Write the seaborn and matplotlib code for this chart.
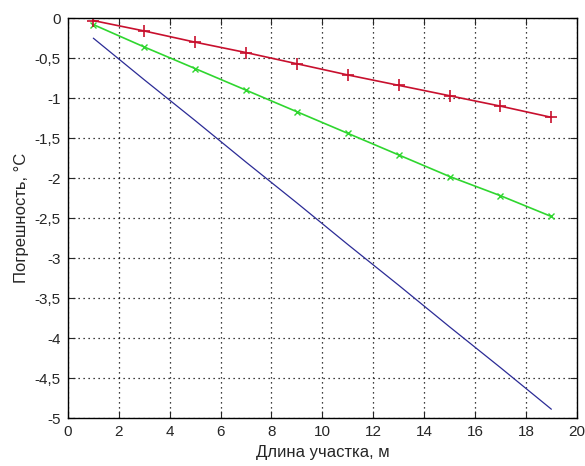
import numpy as np
import pandas as pd
import matplotlib
matplotlib.use('Agg')
import matplotlib.pyplot as plt
import seaborn as sns

# Data
x_vals = [1, 3, 5, 7, 9, 11, 13, 15, 17, 19]
red_vals = [-0.03, -0.16, -0.30, -0.43, -0.57, -0.71, -0.84, -0.97, -1.10, -1.24]
green_vals = [-0.08, -0.36, -0.63, -0.90, -1.17, -1.44, -1.71, -1.98, -2.22, -2.48]
blue_vals = [-0.25, -0.77, -1.28, -1.80, -2.31, -2.83, -3.34, -3.86, -4.37, -4.89]

xticks = list(range(0, 21, 2))
yticks = [0, -0.5, -1, -1.5, -2, -2.5, -3, -3.5, -4, -4.5, -5]
ytick_labels = ['0', '-0,5', '-1', '-1,5', '-2', '-2,5', '-3', '-3,5', '-4', '-4,5', '-5']

sns.set_style('ticks')
plt.rcParams['font.family'] = ['Liberation Sans', 'DejaVu Sans']

fig = plt.figure(figsize=(5.85, 4.66), dpi=100)
ax = fig.add_axes([0.116, 0.103, 0.870, 0.858])

df = pd.DataFrame({'x': x_vals, 'red': red_vals, 'green': green_vals, 'blue': blue_vals})

sns.lineplot(data=df, x='x', y='blue', ax=ax, color='#2b2b96', linewidth=0.9)
sns.lineplot(data=df, x='x', y='green', ax=ax, color='#2fd62f', linewidth=1.2,
             marker='x', markersize=5, markeredgecolor='#2fd62f', markeredgewidth=1.0)
sns.lineplot(data=df, x='x', y='red', ax=ax, color='#c8102e', linewidth=1.2,
             marker='+', markersize=9, markeredgecolor='#c8102e', markeredgewidth=1.2)

ax.set_xlim(0, 20)
ax.set_ylim(-5, 0)
ax.set_xticks(xticks)
ax.set_yticks(yticks)
ax.set_yticklabels(ytick_labels)
ax.grid(True, linestyle=(0, (1, 3)), color='black', linewidth=0.9)
ax.tick_params(direction='in', top=True, right=True, labelsize=11, length=5, pad=5)
for s in ax.spines.values():
    s.set_linewidth(1.0)
    s.set_color('black')
ax.set_xlabel('Длина участка, м', fontsize=12)
ax.set_ylabel('Погрешность, °C', fontsize=12)

fig.savefig('out.png', dpi=100)
